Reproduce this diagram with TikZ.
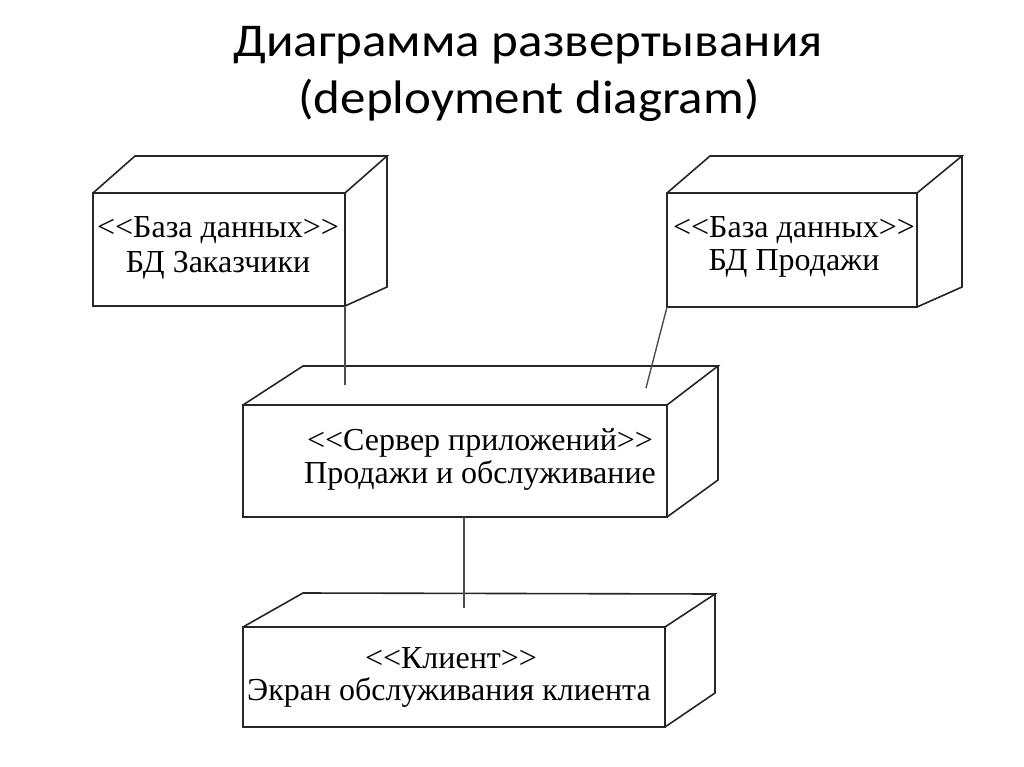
\documentclass[tikz,border=0pt]{standalone}
\usepackage{fontspec}
\setmainfont{Liberation Serif}[Ligatures=TeXOff]
\newfontfamily\headfont{Carlito}[FakeStretch=1.085]

\begin{document}
\begin{tikzpicture}[x=1pt, y=-1pt, line width=1.6pt,
  edge/.style={draw=black!85, line join=miter},
  link/.style={draw=black!70, line width=1.4pt},
  label/.style={font=\fontsize{32}{32}\selectfont, anchor=base, inner sep=0pt},
  heading/.style={font=\headfont\fontsize{47}{47}\selectfont, anchor=base, inner sep=0pt}]
  \useasboundingbox (0,0) rectangle (1024,767);
  % title
  \node[heading] (title1) at (528,57) {Диаграмма развертывания};
  \node[heading] (title2) at (529,114) {(deployment diagram)};
  % database node, customers
  \coordinate (A1) at (93,193);
  \coordinate (B1) at (345,193);
  \coordinate (C1) at (345,306);
  \coordinate (D1) at (93,306);
  \coordinate (E1) at (135,156);
  \coordinate (F1) at (387,156);
  \coordinate (G1) at (387,287);
  \draw[edge] (A1) -- (B1) -- (C1) -- (D1) -- cycle;
  \draw[edge] (A1) -- (E1) -- (F1) -- (B1);
  \draw[edge] (F1) -- (G1) -- (C1);
  \node[label] (db1type) at (218,237) {<<База данных>>};
  \node[label] (db1name) at (218,272) {БД Заказчики};
  % database node, sales
  \coordinate (A2) at (667,193);
  \coordinate (B2) at (917,193);
  \coordinate (C2) at (917,307);
  \coordinate (D2) at (667,307);
  \coordinate (E2) at (710,156);
  \coordinate (F2) at (962,156);
  \coordinate (G2) at (962,287);
  \draw[edge] (A2) -- (B2) -- (C2) -- (D2) -- cycle;
  \draw[edge] (A2) -- (E2) -- (F2) -- (B2);
  \draw[edge] (F2) -- (G2) -- (C2);
  \node[label] (db2type) at (794,237) {<<База данных>>};
  \node[label] (db2name) at (794,270) {БД Продажи};
  % application server
  \coordinate (A3) at (243,405);
  \coordinate (B3) at (667,405);
  \coordinate (C3) at (667,517);
  \coordinate (D3) at (243,517);
  \coordinate (E3) at (303,366);
  \coordinate (F3) at (718,366);
  \coordinate (G3) at (718,480);
  \draw[edge] (A3) -- (B3) -- (C3) -- (D3) -- cycle;
  \draw[edge] (A3) -- (E3) -- (F3) -- (B3);
  \draw[edge] (F3) -- (G3) -- (C3);
  \node[label] (srvtype) at (480,450) {<<Сервер приложений>>};
  \node[label] (srvname) at (480,483) {Продажи и обслуживание};
  % client
  \coordinate (A4) at (243,627);
  \coordinate (B4) at (665,627);
  \coordinate (C4) at (665,727);
  \coordinate (D4) at (243,727);
  \coordinate (E4) at (303,593);
  \coordinate (F4) at (715,594);
  \coordinate (G4) at (715,693);
  \draw[edge] (A4) -- (B4) -- (C4) -- (D4) -- cycle;
  \draw[edge] (A4) -- (E4) -- (F4) -- (B4);
  \draw[edge] (F4) -- (G4) -- (C4);
  \node[label] (clitype) at (451,668) {<<Клиент>>};
  \node[label] (cliname) at (449,700) {Экран обслуживания клиента};
  % links
  \coordinate (S1) at (345,385);
  \coordinate (S2) at (646,388);
  \coordinate (P3) at (464,517);
  \coordinate (S4) at (464,608);
  \draw[link] (C1) -- (S1);
  \draw[link] (D2) -- (S2);
  \draw[link] (P3) -- (S4);
\end{tikzpicture}
\end{document}
